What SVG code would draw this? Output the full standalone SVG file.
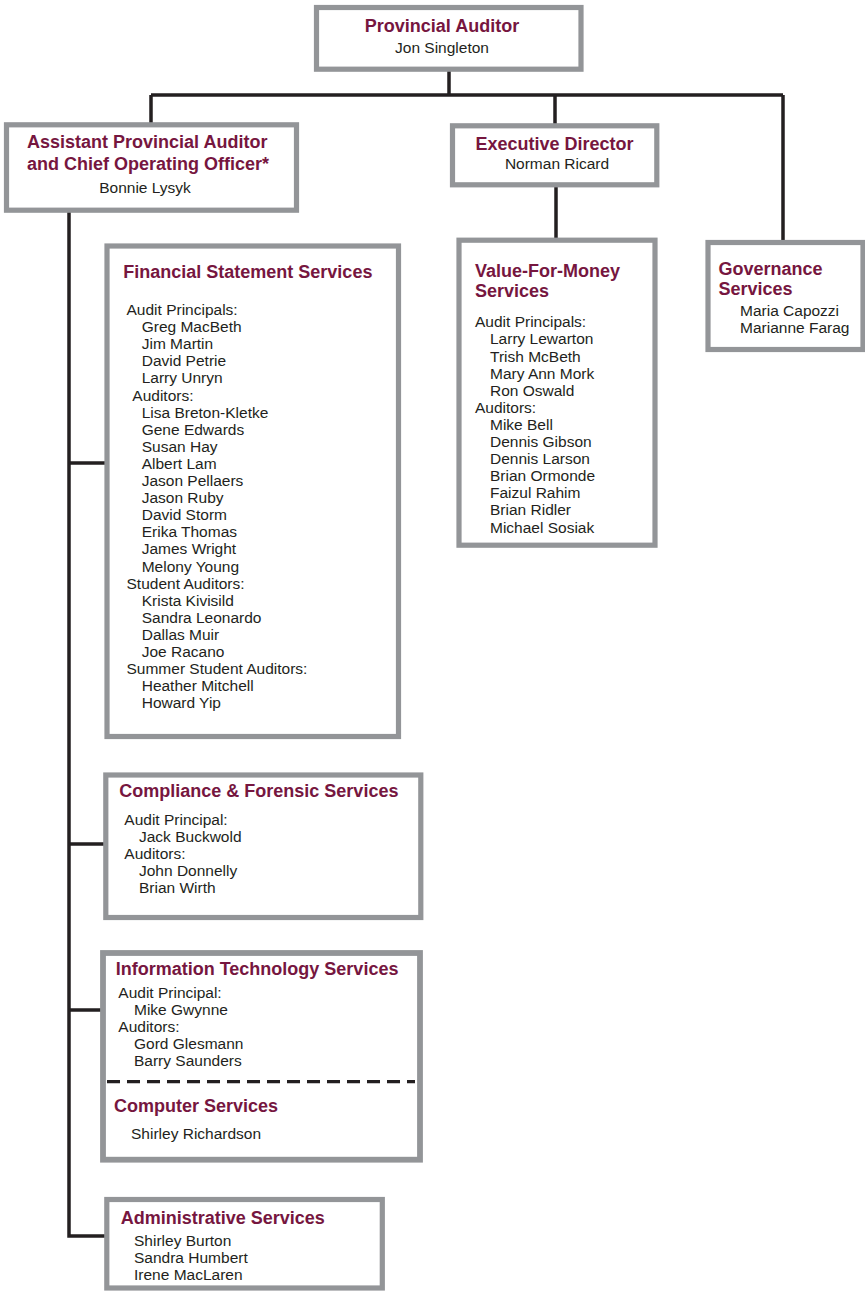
<svg xmlns="http://www.w3.org/2000/svg" width="865" height="1292" viewBox="0 0 865 1292">
<style>
.box{fill:#ffffff;stroke:#939598;stroke-width:5.2}
.ln{fill:none;stroke:#231f20;stroke-width:3.5}
.dash{fill:none;stroke:#231f20;stroke-width:3.2;stroke-dasharray:13 7}
.t{font-family:"Liberation Sans",Arial,sans-serif;font-weight:bold;font-size:18px;fill:#76163f}
.b{font-family:"Liberation Sans",Arial,sans-serif;font-size:15.5px;fill:#231f20}
.c{text-anchor:middle}
</style>
<rect width="865" height="1292" fill="#ffffff"/>
<g id="connectors">
<path class="ln" d="M449 71 V95 M151 95 H783 M151 95 V124 M555 95 V124 M783 95 V241"/>
<path class="ln" d="M556 187 V239"/>
<path class="ln" d="M69 212 V1236 H106 M69 463 H106 M69 844 H104 M69 1010 H102"/>
</g>
<g id="provincial-auditor">
<rect class="box" x="316.5" y="7.5" width="264.5" height="61.7"/>
<text class="t c" x="442" y="32">Provincial Auditor</text>
<text class="b c" x="442" y="52.5">Jon Singleton</text>
</g>
<g id="assistant-provincial-auditor">
<rect class="box" x="6.5" y="124.8" width="290" height="85.4"/>
<text class="t" x="27" y="147.5">Assistant Provincial Auditor</text>
<text class="t" x="27" y="170">and Chief Operating Officer*</text>
<text class="b c" x="145" y="192.5">Bonnie Lysyk</text>
</g>
<g id="executive-director">
<rect class="box" x="452.5" y="125.8" width="204.3" height="59"/>
<text class="t c" x="554.5" y="150">Executive Director</text>
<text class="b c" x="557" y="168.5">Norman Ricard</text>
</g>
<g id="value-for-money-services">
<rect class="box" x="459" y="240.2" width="196" height="305"/>
<text class="t" x="475" y="277">Value-For-Money</text>
<text class="t" x="475" y="297">Services</text>
<text class="b" x="475" y="327.3">Audit Principals:</text>
<text class="b" x="490" y="344.4">Larry Lewarton</text>
<text class="b" x="490" y="361.5">Trish McBeth</text>
<text class="b" x="490" y="378.6">Mary Ann Mork</text>
<text class="b" x="490" y="395.7">Ron Oswald</text>
<text class="b" x="475" y="412.8">Auditors:</text>
<text class="b" x="490" y="429.9">Mike Bell</text>
<text class="b" x="490" y="447">Dennis Gibson</text>
<text class="b" x="490" y="464.1">Dennis Larson</text>
<text class="b" x="490" y="481.2">Brian Ormonde</text>
<text class="b" x="490" y="498.3">Faizul Rahim</text>
<text class="b" x="490" y="515.4">Brian Ridler</text>
<text class="b" x="490" y="532.5">Michael Sosiak</text>
</g>
<g id="governance-services">
<rect class="box" x="708" y="242.5" width="155" height="107"/>
<text class="t" x="718.5" y="275">Governance</text>
<text class="t" x="718.5" y="295">Services</text>
<text class="b" x="740" y="316.3">Maria Capozzi</text>
<text class="b" x="740" y="333.4">Marianne Farag</text>
</g>
<g id="financial-statement-services">
<rect class="box" x="107" y="246" width="291.5" height="490.5"/>
<text class="t" x="123.3" y="278.3">Financial Statement Services</text>
<text class="b" x="126.5" y="315">Audit Principals:</text>
<text class="b" x="141.7" y="332.1">Greg MacBeth</text>
<text class="b" x="141.7" y="349.2">Jim Martin</text>
<text class="b" x="141.7" y="366.3">David Petrie</text>
<text class="b" x="141.7" y="383.4">Larry Unryn</text>
<text class="b" x="132.3" y="400.5">Auditors:</text>
<text class="b" x="141.7" y="417.6">Lisa Breton-Kletke</text>
<text class="b" x="141.7" y="434.7">Gene Edwards</text>
<text class="b" x="141.7" y="451.8">Susan Hay</text>
<text class="b" x="141.7" y="468.9">Albert Lam</text>
<text class="b" x="141.7" y="486">Jason Pellaers</text>
<text class="b" x="141.7" y="503.1">Jason Ruby</text>
<text class="b" x="141.7" y="520.2">David Storm</text>
<text class="b" x="141.7" y="537.3">Erika Thomas</text>
<text class="b" x="141.7" y="554.4">James Wright</text>
<text class="b" x="141.7" y="571.5">Melony Young</text>
<text class="b" x="126.5" y="588.6">Student Auditors:</text>
<text class="b" x="141.7" y="605.7">Krista Kivisild</text>
<text class="b" x="141.7" y="622.8">Sandra Leonardo</text>
<text class="b" x="141.7" y="639.9">Dallas Muir</text>
<text class="b" x="141.7" y="657">Joe Racano</text>
<text class="b" x="126.5" y="674.1">Summer Student Auditors:</text>
<text class="b" x="141.7" y="691.2">Heather Mitchell</text>
<text class="b" x="141.7" y="708.3">Howard Yip</text>
</g>
<g id="compliance-forensic-services">
<rect class="box" x="105.8" y="775" width="315" height="142.5"/>
<text class="t" x="119.3" y="797">Compliance &amp; Forensic Services</text>
<text class="b" x="124.3" y="825">Audit Principal:</text>
<text class="b" x="139" y="842">Jack Buckwold</text>
<text class="b" x="124.3" y="859">Auditors:</text>
<text class="b" x="139" y="876">John Donnelly</text>
<text class="b" x="139" y="893">Brian Wirth</text>
</g>
<g id="information-technology-services">
<rect class="box" x="103" y="953" width="317" height="206.7" style="stroke-width:5.8"/>
<text class="t" x="115.7" y="974.5">Information Technology Services</text>
<text class="b" x="118.3" y="997.5">Audit Principal:</text>
<text class="b" x="134" y="1014.5">Mike Gwynne</text>
<text class="b" x="118.3" y="1031.5">Auditors:</text>
<text class="b" x="134" y="1048.5">Gord Glesmann</text>
<text class="b" x="134" y="1065.5">Barry Saunders</text>
<path class="dash" d="M107 1081.7 H415"/>
<text class="t" x="114" y="1111.7">Computer Services</text>
<text class="b" x="131" y="1138.5">Shirley Richardson</text>
</g>
<g id="administrative-services">
<rect class="box" x="106.8" y="1199.5" width="275.5" height="88.5"/>
<text class="t" x="120.7" y="1224">Administrative Services</text>
<text class="b" x="134" y="1245.8">Shirley Burton</text>
<text class="b" x="134" y="1262.8">Sandra Humbert</text>
<text class="b" x="134" y="1279.8">Irene MacLaren</text>
</g>
</svg>
